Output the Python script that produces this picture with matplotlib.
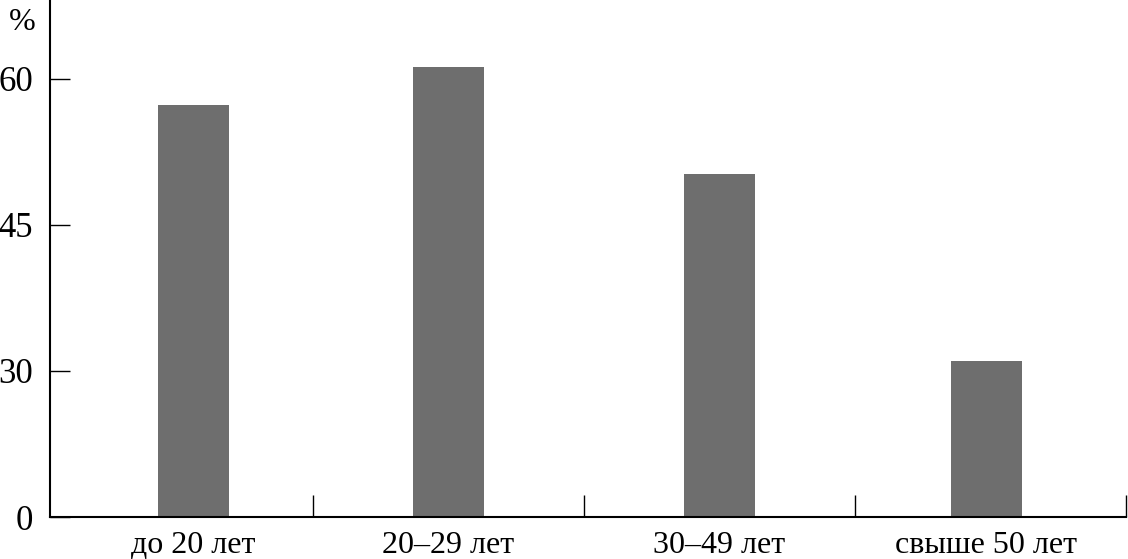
import numpy as np
import matplotlib
matplotlib.use('Agg')
import matplotlib.pyplot as plt

# age groups and share, %
groups = ['до 20 лет', '20–29 лет', '30–49 лет', 'свыше 50 лет']
values = [57.3, 61.2, 50.2, 31.0]

# the y axis in the source starts at 15 but the lowest tick reads "0"
y_ticks = [15, 30, 45, 60]
y_labels = ['0', '30', '45', '60']

plt.rcParams['font.family'] = ['Liberation Serif', 'DejaVu Serif']

fig = plt.figure(figsize=(11.28, 5.59), dpi=100)
ax = fig.add_axes([50/1128, 42/559, 1076/1128, 517/559])

x = np.arange(len(groups))
# small nudges so the bars sit where they do in the source
shift = [0.06, 0, 0, -0.015]
ax.bar(x + np.array(shift), values, width=0.263, color='#6e6e6e', zorder=2)

ax.set_xlim(-0.47, 3.5)
ax.set_ylim(15, 68.1)

ax.set_yticks(y_ticks)
ax.set_yticklabels(y_labels, fontsize=25)
ax.tick_params(axis='y', direction='in', length=14.5, width=1, pad=12)

ax.set_xticks(x + np.array(shift))
ax.set_xticklabels(groups, fontsize=23)
ax.tick_params(axis='x', which='major', length=0, pad=10)
ax.set_xticks(list(x + 0.5), minor=True)
ax.tick_params(axis='x', which='minor', direction='in', length=16, width=1)

for s in ['top', 'right']:
    ax.spines[s].set_visible(False)
for s in ['left', 'bottom']:
    ax.spines[s].set_linewidth(1.5)

fig.text(22/1128, 1 - 22/559, '%', fontsize=23, ha='center', va='center')

fig.savefig('out.png', dpi=100)
